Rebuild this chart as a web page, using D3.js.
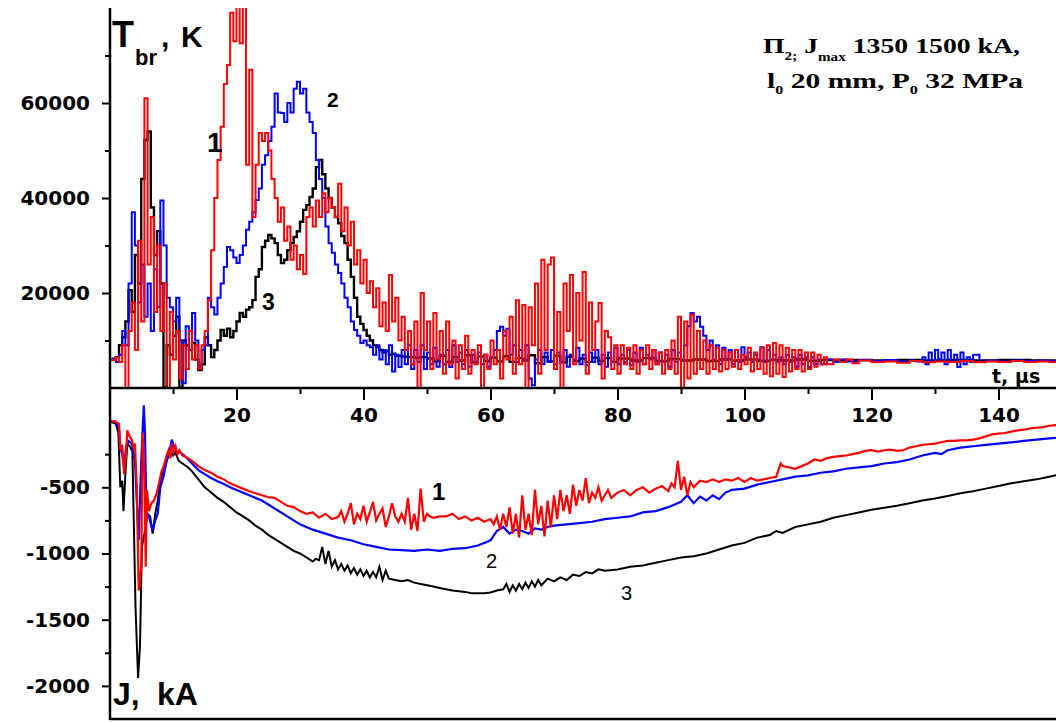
<!DOCTYPE html>
<html>
<head>
<meta charset="utf-8">
<script src="https://cdn.jsdelivr.net/npm/d3@7"></script>
<style>
  body { margin: 0; background: #fff; }
  svg { display: block; }
</style>
</head>
<body>
<svg id="chart" width="1056" height="722"></svg>
<script>
// ---- brightness temperature T_br (K) vs time t (µs): [t, T] ----
const tbrRed = [
  [0,5900],[0.5,5900],[1,6500],[1.5,5500],[2,9000],[2.5,0],[3,12000],[3.5,18000],[4,8000],[4.5,31000],
  [5,14000],[5.5,61000],[6,26000],[6.5,36000],[7,16000],[7.5,30000],[8,12000],[8.5,22000],[9,0],[9.5,16000],
  [10,6000],[10.5,12000],[11,2000],[11.5,9000],[12,4000],[12.5,12000],[13,6000],[13.5,9000],[14,4000],[14.5,9000],
  [15,12000],[15.5,18500],[16,29000],[16.5,40000],[17,48000],[17.5,55000],[18,64000],[18.5,68000],[19,79000],[19.5,73000],
  [20,85000],[20.5,72600],[21,85000],[21.5,47000],[22,67000],[22.5,36000],[23,47000],[23.5,53700],[24,52000],[24.5,53700],
  [25,50000],[25.5,44000],[26,40000],[26.5,35000],[27,38000],[27.5,31000],[28,34000],[28.5,27000],[29,30000],[29.5,25000],
  [30,28000],[30.5,24000],[31,36000],[31.5,38000],[32,34000],[32.5,39500],[33,36000],[33.5,41000],[34,37000],[34.5,40000],
  [35,38000],[35.5,36000],[36,43000],[36.5,33000],[37,38000],[37.5,30000],[38,35000],[38.5,26000],[39,29000],[39.5,22000],
  [40,27000],[40.5,20000],[41,22500],[41.5,17000],[42,21000],[42.5,13000],[43,18000],[43.5,12000],[44,23800],[44.5,14000],
  [45,19000],[45.5,10000],[46,15000],[46.5,8000],[47,12000],[47.5,5000],[48,14000],[48.5,0],[49,20000],[49.5,8000],
  [50,14000],[50.5,4000],[51,15800],[51.5,6000],[52,12000],[52.5,3000],[53,14000],[53.5,5000],[54,10000],[54.5,2000],
  [55,9000],[55.5,4000],[56,11000],[56.5,3000],[57,8000],[57.5,5000],[58,9000],[58.5,0],[59,7000],[59.5,4000],
  [60,10000],[60.5,5000],[61,8000],[61.5,2000],[62,12000],[62.5,6000],[63,15000],[63.5,3000],[64,18500],[64.5,5000],
  [65,17500],[65.5,0],[66,17000],[66.5,9000],[67,22000],[67.5,3000],[68,27000],[68.5,8000],[69,26000],[69.5,27500],
  [70,4000],[70.5,16000],[71,0],[71.5,22000],[72,12000],[72.5,23800],[73,5000],[73.5,20000],[74,10000],[74.5,24400],
  [75,3000],[75.5,18000],[76,8000],[76.5,14000],[77,17900],[77.5,2000],[78,12000],[78.5,10700],[79,4000],[79.5,9000],
  [80,3000],[80.5,9000],[81,5000],[81.5,8500],[82,4000],[82.5,9000],[83,3000],[83.5,8000],[84,5000],[84.5,9000],
  [85,4000],[85.5,8000],[86,5000],[86.5,7500],[87,3000],[87.5,8000],[88,4000],[88.5,10000],[89,3000],[89.5,15000],
  [90,0],[90.5,14000],[91,2000],[91.5,15400],[92,3000],[92.5,12000],[93,4000],[93.5,10000],[94,3000],[94.5,9000],
  [95,4000],[95.5,8500],[96,3500],[96.5,8000],[97,4000],[97.5,7500],[98,4500],[98.5,8000],[99,4000],[99.5,7000],
  [100,5000],[100.5,8500],[101,3500],[101.5,7500],[102,4000],[102.5,8500],[103,3000],[103.5,9000],[104,2500],[104.5,9500],
  [105,3000],[105.5,9000],[106,2300],[106.5,8500],[107,3500],[107.5,8000],[108,4000],[108.5,8000],[109,3500],[109.5,7500],
  [110,4000],[110.5,7500],[111,4500],[111.5,7000],[112,5000],[112.5,6500],[113,5000],[114,6000],[115,5500],[116,6000],
  [117,5200],[118,5800],[120,5500],[122,5600],[124,5300],[126,5700],[128,5400],[130,5600],[132,5500],[134,5700],
  [136,5400],[138,5600],[140,5500],[142,5700],[144,5500],[146,5600],[148,5500],[150,5600]
];
const tbrBlue = [
  [0,5900],[0.5,6200],[1,5500],[1.5,7000],[2,12000],[2.5,9000],[3,22000],[3.5,37000],[4,30000],[4.5,18000],
  [5,26000],[5.5,15000],[6,22000],[6.5,12000],[7,25000],[7.5,17000],[8,39500],[8.5,30000],[9,19000],[9.5,17000],
  [10,14000],[10.5,19000],[11,10000],[11.5,1000],[12,13000],[12.5,8000],[13,15800],[13.5,10000],[14,4000],[14.5,8000],
  [15,9000],[15.5,19000],[16,17000],[16.5,15500],[17,19000],[17.5,22000],[18,25500],[18.5,29700],[19,29000],[19.5,27500],
  [20,26300],[20.5,28000],[21,30000],[21.5,33300],[22,35000],[22.5,37000],[23,39600],[23.5,42000],[24,47000],[24.5,49000],
  [25,52000],[25.5,55000],[26,62000],[26.5,58000],[27,57900],[27.5,56000],[28,60000],[28.5,58000],[29,63000],[29.5,64500],
  [30,62000],[30.5,63000],[31,58000],[31.5,56000],[32,53700],[32.5,48000],[33,44000],[33.5,40000],[34,34000],[34.5,30500],
  [35,28500],[35.5,26000],[36,24200],[36.5,22000],[37,19000],[37.5,17000],[38,14000],[38.5,12200],[39,11000],[39.5,9500],
  [40,10000],[40.5,9000],[41,8600],[41.5,7000],[42,9000],[42.5,6000],[43,8000],[43.5,5000],[44,9000],[44.5,3500],
  [45,7000],[45.5,4400],[46,8000],[46.5,5000],[47,9000],[47.5,4000],[48,8000],[48.5,5500],[49,9000],[49.5,4000],
  [50,7500],[50.5,5000],[51,8500],[51.5,4500],[52,7000],[52.5,5000],[53,8000],[53.5,4400],[54,9000],[54.5,5500],
  [55,7500],[55.5,5000],[56,8000],[56.5,4500],[57,7000],[57.5,5500],[58,7500],[58.5,5000],[59,7000],[59.5,4500],
  [60,6500],[60.5,8000],[61,12000],[61.5,12900],[62,11000],[62.5,12500],[63,7000],[63.5,9000],[64,5500],[64.5,8000],
  [65,6000],[65.5,9000],[66,2000],[66.5,600],[67,6000],[67.5,8000],[68,5000],[68.5,7500],[69,5500],[69.5,8000],
  [70,5000],[70.5,7500],[71,5500],[71.5,8000],[72,4500],[72.5,7000],[73,6000],[73.5,8500],[74,5000],[74.5,7000],
  [75,4800],[75.5,7500],[76,5500],[76.5,8000],[77,5000],[77.5,7000],[78,4500],[78.5,7500],[79,5500],[79.5,8500],
  [80,5000],[80.5,7000],[81,5500],[81.5,8000],[82,4800],[82.5,7500],[83,5500],[83.5,8500],[84,5000],[84.5,7000],
  [85,6000],[85.5,8000],[86,5000],[86.5,7500],[87,5500],[87.5,7000],[88,4500],[88.5,8000],[89,5500],[89.5,7500],
  [90,6000],[90.5,9000],[91,13000],[91.5,15800],[92,14000],[92.5,15000],[93,12900],[93.5,11000],[94,8000],[94.5,10000],
  [95,6000],[95.5,9000],[96,5000],[96.5,8500],[97,6000],[97.5,8000],[98,5000],[98.5,8000],[99,5500],[99.5,8600],
  [100,6500],[100.5,7500],[101,5500],[101.5,7000],[102,6000],[102.5,8600],[103,5500],[103.5,8000],[104,6000],[104.5,7000],
  [105,5500],[105.5,6500],[106,5000],[106.5,7000],[107,5500],[107.5,6500],[108,4500],[108.5,7000],[109,5000],[109.5,6500],
  [110,4400],[110.5,6500],[111,5000],[111.5,6000],[112,5000],[113,6000],[114,5500],[115,6000],[116,5600],[118,5900],
  [120,5700],[122,5900],[124,5600],[126,5800],[127,5600],[128,6500],[128.5,5000],[129,7500],[129.5,5500],[130,8000],
  [130.5,6000],[131,7500],[131.5,5000],[132,8000],[132.5,5500],[133,7000],[133.5,4400],[134,7500],[134.5,5000],[135,6500],
  [135.5,5500],[136,7000],[137,5500],[138,5800],[140,5600],[142,5800],[144,5700],[146,5800],[148,5700],[150,5800]
];
const tbrBlack = [
  [0,5900],[0.5,6000],[1,6500],[1.5,9000],[2,10700],[2.5,14000],[3,20600],[3.5,16000],[4,28000],[4.5,22000],
  [5,44000],[5.5,52200],[6,54000],[6.5,38000],[7,28000],[7.5,33000],[8,22000],[8.5,0],[9,9000],[9.5,7000],
  [10,11000],[10.5,15000],[11,0],[11.5,10000],[12,9000],[12.5,8000],[13,9500],[13.5,6000],[14,3800],[14.5,5000],
  [15,10700],[15.5,9000],[16,6500],[16.5,8000],[17,10000],[17.5,12200],[18,11000],[18.5,12500],[19,10700],[19.5,12000],
  [20,14000],[20.5,15800],[21,15000],[21.5,16500],[22,17000],[22.5,18500],[23,23400],[23.5,25000],[24,29700],[24.5,31000],
  [25,32200],[25.5,31500],[26,30500],[26.5,28000],[27,26300],[27.5,27000],[28,29000],[28.5,30500],[29,31800],[29.5,33000],
  [30,35000],[30.5,37500],[31,38500],[31.5,40200],[32,42000],[32.5,46500],[33,48000],[33.5,45000],[34,42000],[34.5,40000],
  [35,38000],[35.5,36000],[36,34700],[36.5,32000],[37,30500],[37.5,27000],[38,23400],[38.5,19000],[39,15000],[39.5,13500],
  [40,12200],[40.5,11000],[41,10000],[41.5,9000],[42,8600],[42.5,8000],[43,7500],[43.5,7800],[44,7000],[44.5,7200],
  [45,6800],[46,6600],[47,6500],[48,6400],[49,6500],[50,6200],[51,5600],[52,6800],[53,5500],[54,6500],
  [55,5800],[56,6900],[57,5400],[58,6600],[59,5700],[60,6400],[61,5600],[62,6700],[63,5500],[64,6300],
  [65,5800],[66,6900],[67,5200],[68,6500],[69,5600],[70,6800],[71,5400],[72,6600],[73,5700],[74,6200],
  [75,5500],[76,6400],[77,5700],[78,6300],[79,5500],[80,6200],[82,5800],[84,6300],[86,5700],[88,6100],
  [90,5800],[92,6000],[94,5700],[96,6000],[98,5800],[100,6000],[102,5700],[104,5900],[106,5800],[108,6000],
  [110,5700],[112,5900],[114,5800],[116,5900],[120,5800],[124,5900],[128,5800],[132,5900],[136,5800],[140,5900],
  [145,5800],[150,5900]
];

// ---- discharge current J (kA) vs time t (µs): [t, J] ----
const curRed = [
  [0,0],[1,-5],[1.5,-20],[1.7,-220],[2,-180],[2.3,-400],[2.6,-250],[2.8,-70],[3.2,-120],[3.5,-140],
  [3.8,-200],[4,-170],[4.3,-500],[4.6,-1280],[5,-1100],[5.2,-90],[5.5,-400],[5.7,-1100],[5.9,-520],[6.2,-680],
  [6.6,-620],[7,-600],[7.4,-550],[7.8,-470],[8.2,-380],[8.6,-330],[9,-260],[9.3,-220],[9.6,-280],[9.8,-170],
  [10.1,-230],[10.4,-190],[10.7,-250],[11,-220],[11.5,-260],[12,-270],[13,-300],[14,-340],[15,-370],[16,-390],
  [17,-420],[18,-440],[19,-470],[20,-490],[21,-510],[22,-530],[23,-545],[24,-560],[25,-575],[26,-580],
  [27,-610],[28,-640],[29,-650],[30,-680],[31,-700],[32,-690],[33,-730],[34,-700],[35,-740],[36,-725],
  [36.5,-680],[37,-760],[37.5,-700],[38,-620],[38.5,-780],[39,-700],[39.5,-740],[40,-640],[40.5,-760],[41,-690],
  [41.5,-610],[42,-750],[42.5,-700],[43,-660],[43.5,-800],[44,-720],[44.5,-620],[45,-720],[45.5,-760],[46,-700],
  [46.5,-760],[47,-580],[47.5,-820],[48,-700],[48.5,-830],[49,-510],[49.5,-760],[50,-700],[50.5,-720],[51,-730],
  [52,-720],[53,-720],[54,-700],[55,-740],[56,-720],[57,-750],[58,-730],[59,-760],[60,-740],[60.5,-780],
  [61,-720],[61.5,-820],[62,-700],[62.5,-800],[63,-650],[63.5,-850],[64,-700],[64.5,-880],[65,-560],[65.5,-820],
  [66,-700],[66.5,-860],[67,-520],[67.5,-780],[68,-640],[68.5,-870],[69,-600],[69.5,-800],[70,-560],[70.5,-740],
  [71,-520],[71.5,-680],[72,-560],[72.5,-700],[73,-480],[73.5,-640],[74,-520],[74.5,-600],[75,-430],[75.5,-620],
  [76,-540],[76.5,-580],[77,-500],[77.5,-600],[78,-560],[78.5,-520],[79,-580],[80,-540],[81,-520],[82,-560],
  [83,-520],[84,-500],[85,-540],[86,-510],[87,-490],[88,-530],[88.5,-470],[89,-500],[89.5,-300],[90,-520],
  [90.5,-420],[91,-560],[91.5,-460],[92,-500],[93,-450],[94,-460],[95,-440],[96,-460],[97,-440],[98,-450],
  [99,-430],[100,-460],[101,-430],[102,-450],[103,-440],[104,-430],[105,-420],[105.7,-320],[106,-340],[107,-350],
  [108,-360],[109,-340],[110,-320],[111,-290],[112,-300],[113,-280],[114,-270],[115,-265],[116,-260],[117,-250],
  [118,-240],[119,-225],[120,-220],[121,-230],[122,-220],[123,-215],[124,-225],[125,-220],[126,-200],[127,-190],
  [128,-180],[129,-175],[130,-170],[131,-160],[132,-150],[133,-150],[134,-145],[135,-145],[136,-140],[137,-130],
  [138,-115],[139,-100],[140,-95],[141,-90],[142,-80],[143,-70],[144,-65],[145,-55],[146,-50],[147,-45],
  [148,-35],[150,-25]
];
const curBlue = [
  [0,0],[1,-5],[1.5,-60],[1.7,-200],[2,-250],[2.3,-350],[2.6,-200],[3,-150],[3.5,-170],[4,-300],
  [4.3,-600],[4.6,-900],[5,-300],[5.4,120],[5.6,-100],[5.8,-700],[6.2,-720],[6.8,-830],[7.2,-750],[7.6,-700],
  [8,-500],[8.5,-420],[9,-300],[9.5,-220],[9.8,-140],[10.2,-200],[10.6,-240],[11,-230],[12,-270],[13,-320],
  [14,-370],[15,-400],[16,-430],[17,-455],[18,-475],[19,-500],[20,-520],[22,-560],[24,-600],[26,-660],
  [28,-720],[30,-780],[31,-800],[32,-820],[34,-850],[36,-880],[38,-900],[40,-930],[42,-950],[44,-970],
  [46,-975],[48,-980],[50,-970],[52,-980],[54,-965],[56,-960],[58,-940],[59,-920],[60,-900],[61,-830],
  [62,-800],[63,-850],[64,-820],[65,-830],[66,-850],[67,-810],[68,-820],[69,-800],[70,-790],[72,-780],
  [74,-770],[76,-760],[78,-740],[80,-730],[82,-720],[84,-690],[86,-680],[88,-650],[90,-610],[91,-560],
  [92,-620],[93,-570],[94,-600],[95,-560],[96,-590],[97,-540],[98,-520],[100,-510],[102,-480],[104,-460],
  [106,-440],[108,-420],[110,-410],[112,-390],[114,-380],[116,-360],[118,-350],[120,-340],[122,-320],[124,-310],
  [126,-290],[128,-260],[130,-240],[131,-250],[132,-220],[134,-200],[136,-190],[138,-180],[140,-170],[142,-160],
  [144,-150],[146,-140],[148,-130],[150,-125]
];
const curBlack = [
  [0,0],[1,-20],[1.4,-90],[1.7,-500],[2,-450],[2.2,-680],[2.5,-400],[2.8,-170],[3.2,-190],[3.6,-230],
  [4.1,-1410],[4.5,-1940],[4.8,-1700],[5.1,-950],[5.5,-850],[6,-700],[6.4,-720],[6.8,-850],[7.2,-700],[7.6,-600],
  [8,-450],[8.5,-370],[9,-300],[9.6,-220],[10,-260],[10.4,-240],[10.9,-300],[11.5,-320],[12.4,-350],[13,-380],
  [14,-440],[15,-500],[16,-540],[17,-580],[18,-610],[19,-650],[20,-690],[21,-720],[22,-750],[23,-790],
  [24,-820],[25,-860],[26,-890],[27,-920],[28,-950],[29,-980],[30,-1000],[31,-1030],[32,-1060],[32.5,-1040],
  [33,-1050],[33.5,-950],[34,-1080],[34.5,-980],[35,-1100],[35.5,-1050],[36,-1120],[36.5,-1080],[37,-1130],[37.5,-1090],
  [38,-1150],[38.5,-1110],[39,-1160],[39.5,-1120],[40,-1170],[40.5,-1130],[41,-1180],[41.5,-1140],[42,-1180],[42.5,-1100],
  [43,-1200],[43.5,-1130],[44,-1190],[45,-1200],[46,-1210],[47,-1200],[48,-1220],[49,-1230],[50,-1240],[51,-1250],
  [52,-1260],[53,-1270],[54,-1280],[55,-1285],[56,-1290],[57,-1300],[58,-1300],[59,-1300],[60,-1295],[61,-1280],
  [62,-1270],[62.5,-1230],[63,-1290],[63.5,-1240],[64,-1280],[64.5,-1230],[65,-1270],[65.5,-1220],[66,-1260],[66.5,-1210],
  [67,-1250],[67.5,-1200],[68,-1240],[69,-1190],[70,-1210],[71,-1180],[72,-1200],[73,-1160],[74,-1170],[75,-1140],
  [76,-1150],[77,-1120],[78,-1130],[80,-1120],[82,-1100],[84,-1090],[86,-1070],[88,-1050],[90,-1030],[92,-1020],
  [94,-1000],[96,-970],[98,-940],[100,-920],[102,-880],[104,-860],[105,-830],[106,-845],[108,-800],[110,-780],
  [112,-760],[114,-730],[116,-710],[118,-690],[120,-670],[122,-655],[124,-640],[126,-620],[128,-600],[130,-585],
  [132,-565],[134,-545],[136,-530],[138,-510],[140,-490],[142,-470],[144,-455],[146,-440],[148,-420],[150,-400]
];

// ---- ticks ----
const timeTicks = [20, 40, 60, 80, 100, 120, 140];
const timeMinorTicks = [10, 30, 50, 70, 90, 110, 130, 150];
const tbrTicks = [20000, 40000, 60000];
const tbrMinorTicks = [10000, 30000, 50000, 70000];
const curTicks = [-500, -1000, -1500, -2000];
const curMinorTicks = [-250, -750, -1250, -1750];

// ---- layout ----
const svg = d3.select("#chart");
const W = 1056;
const axisX = 110, midY = 388, topY = 8, bottomY = 719;

const x = d3.scaleLinear().domain([0, 150]).range([109.5, 1062]);
const yTop = d3.scaleLinear().domain([0, 80000]).range([midY, topY]);
const yBot = d3.scaleLinear().domain([-2250, 250]).range([bottomY, midY]);

const tickFont = "'DejaVu Sans', sans-serif";

svg.append("rect").attr("width", W).attr("height", 722).attr("fill", "#fff");

const defs = svg.append("defs");
defs.append("clipPath").attr("id", "clipTop")
  .append("rect").attr("x", axisX).attr("y", topY).attr("width", W - axisX).attr("height", midY - topY + 1);
defs.append("clipPath").attr("id", "clipBot")
  .append("rect").attr("x", axisX).attr("y", midY).attr("width", W - axisX).attr("height", bottomY - midY);

// traces: temperature as sample-and-hold steps, current as a polyline
const lineTop = d3.line().x(d => x(d[0])).y(d => yTop(d[1])).curve(d3.curveStepAfter);
const lineBot = d3.line().x(d => x(d[0])).y(d => yBot(d[1]));

const gTop = svg.append("g").attr("clip-path", "url(#clipTop)");
[[tbrBlack, "#000", 2.4], [tbrBlue, "#0000ff", 2], [tbrRed, "#ff0000", 2]].forEach(([data, col, w]) => {
  gTop.append("path").datum(data).attr("d", lineTop)
    .attr("fill", "none").attr("stroke", col).attr("stroke-width", w);
});
const gBot = svg.append("g").attr("clip-path", "url(#clipBot)");
[[curBlack, "#000", 2], [curBlue, "#0000ff", 2.2], [curRed, "#ff0000", 2.2]].forEach(([data, col, w]) => {
  gBot.append("path").datum(data).attr("d", lineBot)
    .attr("fill", "none").attr("stroke", col).attr("stroke-width", w);
});

// axes
function styleAxis(g) {
  g.select(".domain").remove();
  g.selectAll(".tick line").attr("stroke", "#000").attr("stroke-width", 2);
  g.selectAll("text").attr("fill", "#000").attr("font-family", tickFont)
    .attr("font-weight", "bold").attr("font-size", 20);
}
const fmt = d => String(d);

svg.append("g").attr("transform", `translate(${axisX},0)`)
  .call(d3.axisLeft(yTop).tickValues(tbrTicks).tickFormat(fmt).tickSize(8).tickPadding(12))
  .call(styleAxis);
svg.append("g").attr("transform", `translate(${axisX},0)`)
  .call(d3.axisLeft(yTop).tickValues(tbrMinorTicks).tickFormat("").tickSize(5))
  .call(styleAxis);
svg.append("g").attr("transform", `translate(${axisX},0)`)
  .call(d3.axisLeft(yBot).tickValues(curTicks).tickFormat(fmt).tickSize(8).tickPadding(12))
  .call(styleAxis);
svg.append("g").attr("transform", `translate(${axisX},0)`)
  .call(d3.axisLeft(yBot).tickValues(curMinorTicks).tickFormat("").tickSize(5))
  .call(styleAxis);
svg.append("g").attr("transform", `translate(0,${midY})`)
  .call(d3.axisBottom(x).tickValues(timeTicks).tickFormat(fmt).tickSize(12).tickPadding(8))
  .call(styleAxis);
svg.append("g").attr("transform", `translate(0,${midY})`)
  .call(d3.axisBottom(x).tickValues(timeMinorTicks).tickFormat("").tickSize(6))
  .call(styleAxis);

// frame lines
svg.append("line").attr("x1", axisX).attr("x2", axisX).attr("y1", topY).attr("y2", bottomY + 1)
  .attr("stroke", "#000").attr("stroke-width", 2.5);
svg.append("line").attr("x1", axisX).attr("x2", W).attr("y1", midY).attr("y2", midY)
  .attr("stroke", "#000").attr("stroke-width", 2.5);
svg.append("line").attr("x1", axisX).attr("x2", W).attr("y1", bottomY).attr("y2", bottomY)
  .attr("stroke", "#000").attr("stroke-width", 2.5);

// axis titles
const sans = "'Liberation Sans', Arial, sans-serif";
const tTitle = svg.append("text").attr("font-family", sans).attr("font-weight", "bold").attr("fill", "#000");
tTitle.append("tspan").attr("x", 112).attr("y", 47).attr("font-size", 36).text("T");
tTitle.append("tspan").attr("x", 135).attr("y", 65).attr("font-size", 22).text("br");
tTitle.append("tspan").attr("x", 161).attr("y", 47).attr("font-size", 30).text(",");
tTitle.append("tspan").attr("x", 181).attr("y", 47).attr("font-size", 30).text("K");

const jTitle = svg.append("text").attr("font-family", sans).attr("font-weight", "bold").attr("fill", "#000")
  .attr("font-size", 32);
jTitle.append("tspan").attr("x", 113).attr("y", 705).text("J,");
jTitle.append("tspan").attr("x", 157).attr("y", 705).text("kA");

svg.append("text").attr("x", 992).attr("y", 383).attr("font-family", tickFont)
  .attr("font-weight", "bold").attr("font-size", 19).attr("fill", "#000").text("t, μs");

// experiment conditions
const serif = "'Liberation Serif', 'Times New Roman', serif";
const note1 = svg.append("text").attr("font-family", serif).attr("font-weight", "bold")
  .attr("font-size", 22).attr("fill", "#000").attr("x", 763).attr("y", 53)
  .attr("textLength", 257).attr("lengthAdjust", "spacingAndGlyphs");
note1.append("tspan").text("Π");
note1.append("tspan").attr("font-size", 12).attr("dy", 7).text("2;");
note1.append("tspan").attr("dy", -7).text(" J");
note1.append("tspan").attr("font-size", 12).attr("dy", 8).text("max");
note1.append("tspan").attr("dy", -8).text("   1350  1500 kA,");

const note2 = svg.append("text").attr("font-family", serif).attr("font-weight", "bold")
  .attr("font-size", 22).attr("fill", "#000").attr("x", 767).attr("y", 88)
  .attr("textLength", 256).attr("lengthAdjust", "spacingAndGlyphs");
note2.append("tspan").text("l");
note2.append("tspan").attr("font-size", 12).attr("dy", 6).text("0");
note2.append("tspan").attr("dy", -6).text("  20 mm, P");
note2.append("tspan").attr("font-size", 12).attr("dy", 6).text("0");
note2.append("tspan").attr("dy", -6).text("   32 MPa");

// curve numbers
const curveLabels = [
  { t: "1", x: 207, y: 152, size: 28, weight: "bold" },
  { t: "2", x: 327, y: 107, size: 21, weight: "bold" },
  { t: "3", x: 262, y: 310, size: 23, weight: "bold" },
  { t: "1", x: 432, y: 500, size: 24, weight: "bold" },
  { t: "2", x: 486, y: 568, size: 20, weight: "normal" },
  { t: "3", x: 621, y: 600, size: 20, weight: "normal" }
];
svg.selectAll("text.curve-num").data(curveLabels).enter().append("text")
  .attr("class", "curve-num")
  .attr("x", d => d.x).attr("y", d => d.y)
  .attr("font-family", sans).attr("font-size", d => d.size).attr("font-weight", d => d.weight)
  .attr("fill", "#000").text(d => d.t);
</script>
</body>
</html>
